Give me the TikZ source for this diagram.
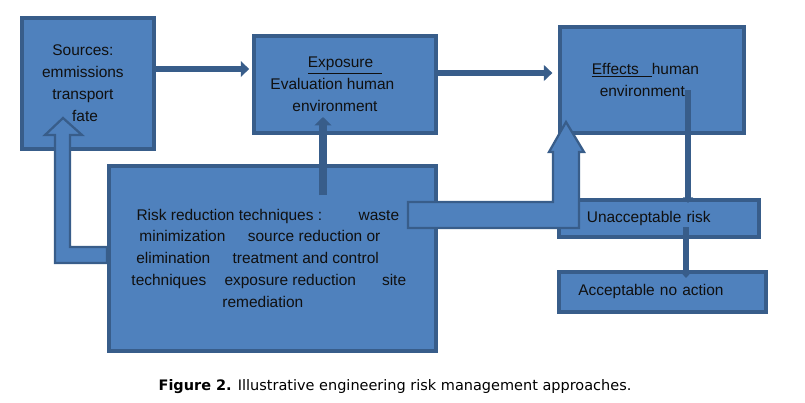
\documentclass[tikz,border=0pt]{standalone}
\usepackage{fontspec}
\setmainfont{Liberation Sans}
\newfontfamily\capfont{DejaVu Sans}
\usetikzlibrary{arrows.meta, positioning}
\definecolor{riskblue}{HTML}{4F81BD}
\definecolor{riskedge}{HTML}{385D8A}
\definecolor{risktext}{HTML}{101010}

\begin{document}
\begin{tikzpicture}[x=0.25mm, y=-0.25mm, font=\fontsize{11}{15.6}\selectfont,
  box/.style={draw=riskedge, fill=riskblue, line width=2.6pt, anchor=north west, inner sep=0pt, align=center, text=risktext},
  flow/.style={draw=riskedge, line width=4.4pt, -{Triangle[length=6pt,width=11pt]}},
  upflow/.style={draw=riskedge, line width=5pt, -{Triangle[length=6pt,width=12pt]}},
  downflow/.style={draw=riskedge, line width=4.8pt, -{Triangle[length=4pt,width=7pt]}},
  blockarrow/.style={draw=riskedge, fill=riskblue, line width=1.6pt, line join=miter}]
\useasboundingbox (0,0) rectangle (805,402);

\node[box, minimum width=33mm, minimum height=32.75mm] (src) at (20,16) {Sources:\rule{7pt}{0pt}\\ emmissions\rule{7pt}{0pt}\\ transport\rule{7pt}{0pt}\\ \rule{3pt}{0pt}fate\rule{7pt}{0pt}};
\node[box, minimum width=45.5mm, minimum height=24.25mm] (expo) at (252,34) {\underline{Exposure\ \ }\\ Evaluation human\rule{17.7pt}{0pt}\\ environment\rule{14pt}{0pt}};
\node[box, minimum width=46mm, minimum height=26.5mm] (eff) at (558,25) {\underline{Effects\ \ \ }human\rule{9pt}{0pt}\\ environment\rule{13.5pt}{0pt}};
\node[box, minimum width=81.75mm, minimum height=46.25mm] (risk) at (107,164) {Risk reduction techniques :\hspace{26pt}waste\rule{6.4pt}{0pt}\\ minimization\hspace{16pt}source reduction or\rule{17.7pt}{0pt}\\ elimination\hspace{16pt}treatment and control\rule{21pt}{0pt}\\ techniques\hspace{13pt}exposure reduction\hspace{18.5pt}site\rule{5pt}{0pt}\\ remediation\rule{13.5pt}{0pt}};
\node[box, minimum width=50mm, minimum height=9.25mm, text width=36mm, align=left] (unacc) at (557,198) {Unacceptable risk};
\node[box, minimum width=51.75mm, minimum height=10mm, text width=42mm, align=left] (acc) at (557,270) {Acceptable no action};

\draw[flow] (src.east |- 0,69) -- ([xshift=-2pt]expo.west |- 0,69);
\draw[flow] (expo.east |- 0,73) -- ([xshift=-4pt]eff.west |- 0,73);
\draw[upflow] (323,195) -- (323,117);
\draw[downflow] (688,90) -- (688,203);
\draw[downflow] (686,227) -- (686,278);

% block arrows back from the risk box
\filldraw[blockarrow] (107,247) -- (70,247) -- (70,135) -- (82,135) -- (63,118) -- (45,135) -- (55,135) -- (55,263) -- (107,263) -- cycle;
\filldraw[blockarrow] (408,202) -- (553,202) -- (553,152) -- (549,152) -- (566,122) -- (584,152) -- (579,152) -- (579,228) -- (408,228) -- cycle;

\node[font=\capfont\fontsize{10.3}{12}\selectfont] (cap) at (395,387) {\textbf{Figure 2.} Illustrative engineering risk management approaches.};
\end{tikzpicture}
\end{document}
